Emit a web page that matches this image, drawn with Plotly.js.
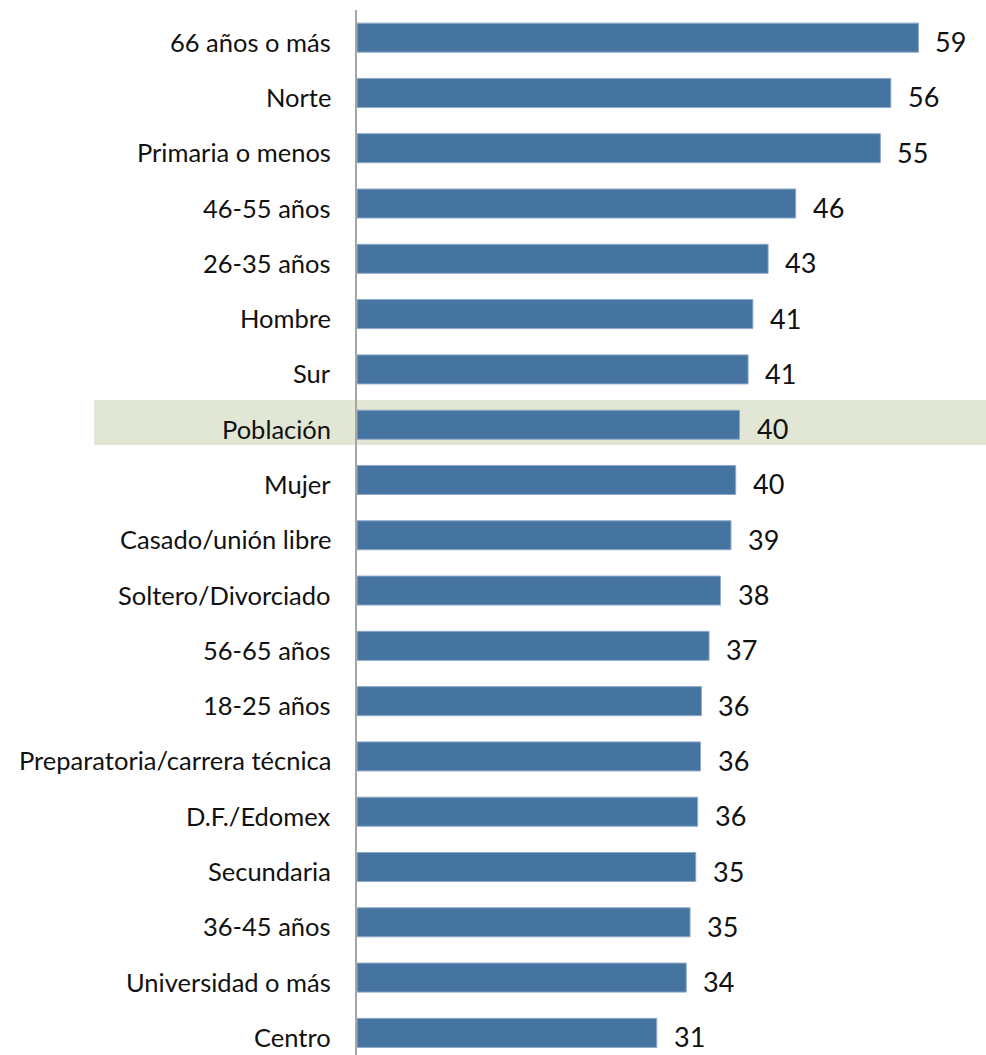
<!DOCTYPE html>
<html>
<head>
<meta charset="utf-8">
<script src="https://cdn.plot.ly/plotly-3.0.1.min.js"></script>
<style>html,body{margin:0;padding:0;background:#fff;}#chart{width:986px;height:1055px;}</style>
</head>
<body>
<div id="chart"></div>
<script>
const categories = ["66 años o más","Norte","Primaria o menos","46-55 años","26-35 años","Hombre","Sur","Población","Mujer","Casado/unión libre","Soltero/Divorciado","56-65 años","18-25 años","Preparatoria/carrera técnica","D.F./Edomex","Secundaria","36-45 años","Universidad o más","Centro"];
const values = [59.0, 56.1, 55.0, 46.1, 43.2, 41.6, 41.1, 40.2, 39.8, 39.3, 38.2, 37.0, 36.2, 36.1, 35.8, 35.6, 35.0, 34.6, 31.5];
const valueLabels = ["59","56","55","46","43","41","41","40","40","39","38","37","36","36","36","35","35","34","31"];
const highlighted = "Población";

const FONT = "Lato, 'Open Sans', sans-serif";
const hIdx = categories.indexOf(highlighted);

const trace = {
  type: "bar",
  orientation: "h",
  x: values,
  y: categories,
  marker: {color: "#4674A1", line: {color: "#8FA9C9", width: 1}},
  hoverinfo: "x+y"
};

const valueAnn = categories.map((c, i) => ({
  x: values[i], y: c, xref: "x", yref: "y",
  text: valueLabels[i], showarrow: false,
  xanchor: "left", yanchor: "middle", xshift: 15, yshift: -4,
  font: {family: FONT, size: 27, color: "#111"}
}));

const catAnn = categories.map((c) => ({
  x: 0, y: c, xref: "paper", yref: "y",
  text: c, showarrow: false,
  xanchor: "right", yanchor: "middle", xshift: -24, yshift: -4,
  font: {family: FONT, size: 25.5, color: "#111"}
}));

const layout = {
  width: 986, height: 1055,
  margin: {l: 357, r: 0, t: 10, b: 0},
  paper_bgcolor: "#ffffff", plot_bgcolor: "rgba(0,0,0,0)",
  bargap: 0.475,
  showlegend: false,
  xaxis: {range: [0, 66.1], showgrid: false, zeroline: false, showticklabels: false, showline: false, ticks: ""},
  yaxis: {
    type: "category", range: [18.4, -0.5],
    showgrid: false, zeroline: false,
    showline: true, linecolor: "#A6A6A6", linewidth: 2.5,
    ticks: "", showticklabels: false
  },
  shapes: [{
    type: "rect", layer: "below",
    xref: "paper", yref: "y",
    x0: -0.418, x1: 1,
    y0: hIdx - 0.447, y1: hIdx + 0.366,
    fillcolor: "#E2E6D4", line: {width: 0}
  }],
  annotations: catAnn.concat(valueAnn)
};

Plotly.newPlot("chart", [trace], layout, {displayModeBar: false, staticPlot: true});
</script>
</body>
</html>
